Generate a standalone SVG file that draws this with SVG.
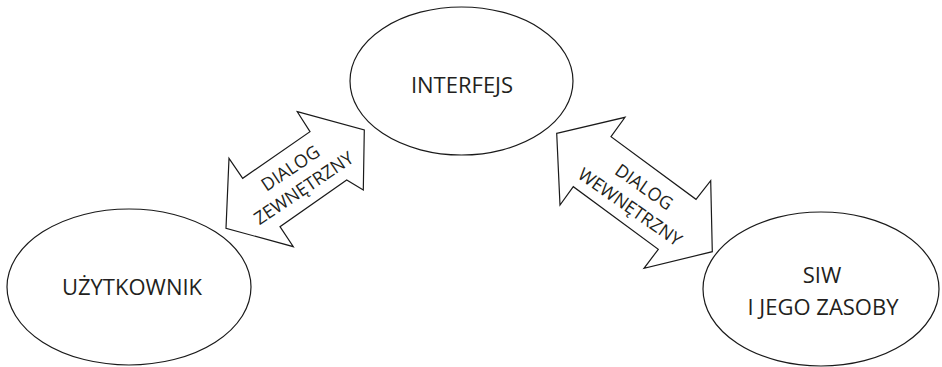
<svg xmlns="http://www.w3.org/2000/svg" width="942" height="367" viewBox="0 0 942 367">
  <style>
    .node { fill: #ffffff; stroke: #1a1a1a; stroke-width: 1.2; }
    .arrow { fill: #ffffff; stroke: #1a1a1a; stroke-width: 1.2; stroke-linejoin: miter; }
    .label { font-family: "Open Sans", "Noto Sans", "Liberation Sans", sans-serif; font-size: 22px; fill: #231f20; text-anchor: middle; }
    .small { font-family: "Open Sans", "Noto Sans", "Liberation Sans", sans-serif; font-size: 18px; fill: #231f20; text-anchor: middle; }
  </style>
  <rect width="942" height="367" fill="#ffffff"/>

  <!-- double-headed block arrows -->
  <g id="connectors">
    <g id="dialog-zewnetrzny">
      <polygon class="arrow" points="297.3,111.7 364.3,130 363.3,190 346.7,180 280,226.7 293.3,246.7 226,228.3 229,158.3 242.7,178.3 310,131.7"/>
      <g transform="translate(297,178) rotate(-34)">
        <text class="small" x="0" y="-5.5">DIALOG</text>
        <text class="small" x="0" y="18.5">ZEWNĘTRZNY</text>
      </g>
    </g>
    <g id="dialog-wewnetrzny">
      <polygon class="arrow" points="556.7,133.3 625,117.3 611,136.7 696,199.3 710.7,180.7 712.3,251.7 644,268.3 658.3,249.3 573.3,186.7 560,205"/>
      <g transform="translate(637,197) rotate(35)">
        <text class="small" x="0" y="-6">DIALOG</text>
        <text class="small" x="0" y="18.5">WEWNĘTRZNY</text>
      </g>
    </g>
  </g>

  <g id="interfejs">
    <ellipse class="node" cx="461.5" cy="81" rx="111.5" ry="74"/>
    <text class="label" x="462" y="93">INTERFEJS</text>
  </g>

  <g id="uzytkownik">
    <ellipse class="node" cx="129" cy="287" rx="122" ry="78"/>
    <text class="label" x="132" y="295">UŻYTKOWNIK</text>
  </g>

  <g id="siw">
    <ellipse class="node" cx="821" cy="289" rx="118" ry="77"/>
    <text class="label" x="822" y="283">SIW</text>
    <text class="label" x="823" y="315">I JEGO ZASOBY</text>
  </g>
</svg>
